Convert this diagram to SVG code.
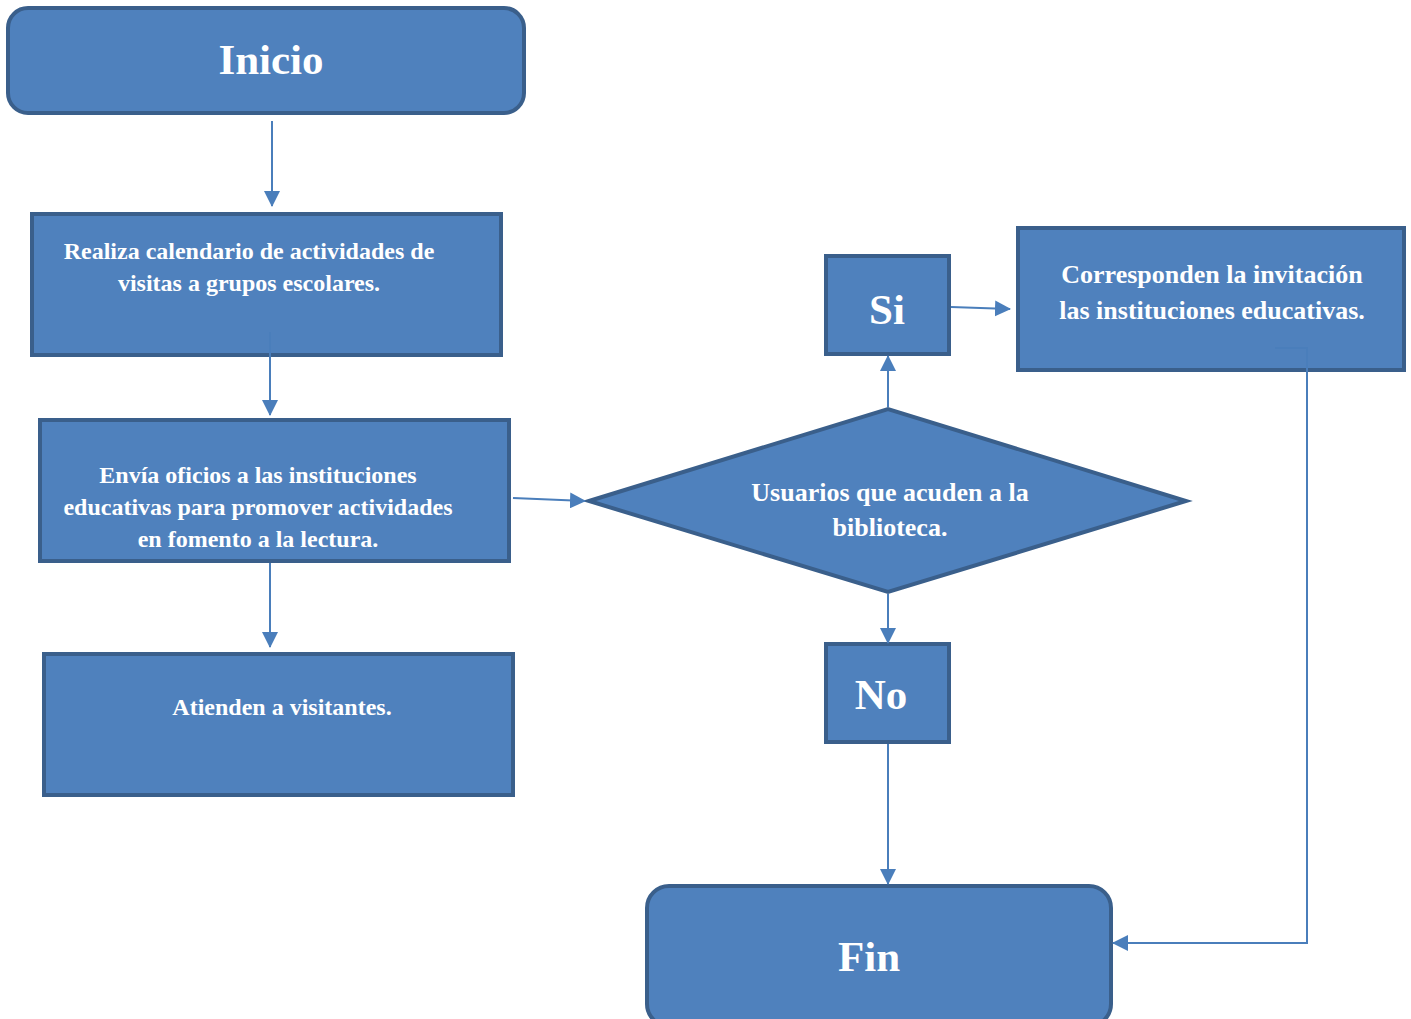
<svg xmlns="http://www.w3.org/2000/svg" width="1411" height="1019" viewBox="0 0 1411 1019">
<defs>
<style>
.n{fill:#4F81BD;stroke:#3A5F8B;stroke-width:4}
.t{fill:#fff;font-family:"Liberation Serif","Times New Roman",serif;font-weight:bold;text-anchor:middle}
.big{font-size:43px}
.sm{font-size:24px}
.md{font-size:26px}
.c{fill:none;stroke:#4A7EBB;stroke-width:2}
</style>
<marker id="ah" markerWidth="16" markerHeight="16" refX="15" refY="8" orient="auto" markerUnits="userSpaceOnUse" viewBox="0 0 16 16">
<path d="M0,0 L16,8 L0,16 z" fill="#4A7EBB"/>
</marker>
</defs>
<rect width="1411" height="1019" fill="#fff"/>
<g id="inicio">
<rect class="n" x="8" y="8" width="516" height="105" rx="20"/>
<text class="t big" x="271" y="74">Inicio</text>
</g>
<g id="realiza">
<rect class="n" x="32" y="214" width="469" height="141"/>
<text class="t sm" x="249" y="259">Realiza calendario de actividades de</text>
<text class="t sm" x="249" y="291">visitas a grupos escolares.</text>
</g>
<g id="envia">
<rect class="n" x="40" y="420" width="469" height="141"/>
<text class="t sm" x="258" y="483">Envía oficios a las instituciones</text>
<text class="t sm" x="258" y="515">educativas para promover actividades</text>
<text class="t sm" x="258" y="547">en fomento a la lectura.</text>
</g>
<g id="atienden">
<rect class="n" x="44" y="654" width="469" height="141"/>
<text class="t sm" x="282" y="715">Atienden a visitantes.</text>
</g>
<g id="usuarios">
<polygon class="n" points="589,501 888,409 1186,501 888,592"/>
<text class="t md" x="890" y="501">Usuarios que acuden a la</text>
<text class="t md" x="890" y="536">biblioteca.</text>
</g>
<g id="si">
<rect class="n" x="826" y="256" width="123" height="98"/>
<text class="t big" x="887" y="324">Si</text>
</g>
<g id="corresponden">
<rect class="n" x="1018" y="228" width="386" height="142"/>
<text class="t md" x="1212" y="283">Corresponden la invitación</text>
<text class="t md" x="1212" y="319">las instituciones educativas.</text>
</g>
<g id="no">
<rect class="n" x="826" y="644" width="123" height="98"/>
<text class="t big" x="881" y="709">No</text>
</g>
<g id="fin">
<rect class="n" x="647" y="886" width="464" height="140" rx="22"/>
<text class="t big" x="869" y="971">Fin</text>
</g>
<g id="connectors">
<line class="c" x1="272" y1="121" x2="272" y2="206" marker-end="url(#ah)"/>
<line class="c" x1="270" y1="332" x2="270" y2="415" marker-end="url(#ah)"/>
<line class="c" x1="270" y1="563" x2="270" y2="647" marker-end="url(#ah)"/>
<line class="c" x1="513" y1="498" x2="585" y2="501" marker-end="url(#ah)"/>
<line class="c" x1="888" y1="407" x2="888" y2="356" marker-end="url(#ah)"/>
<line class="c" x1="951" y1="307" x2="1010" y2="309" marker-end="url(#ah)"/>
<line class="c" x1="888" y1="594" x2="888" y2="643" marker-end="url(#ah)"/>
<line class="c" x1="888" y1="744" x2="888" y2="884" marker-end="url(#ah)"/>
<polyline class="c" points="1275,348 1307,348 1307,943 1113,943" marker-end="url(#ah)"/>
</g>
</svg>
